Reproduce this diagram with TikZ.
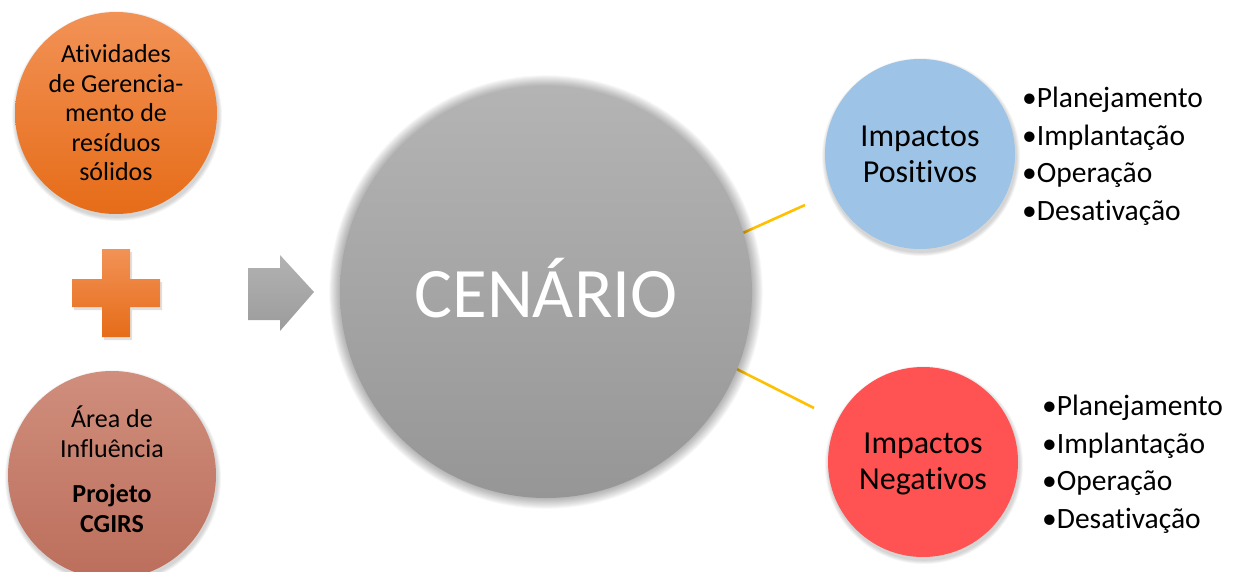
\documentclass[tikz,border=0pt]{standalone}
\usepackage{fontspec}
\setmainfont[Ligatures=NoCommon]{Carlito}
\usetikzlibrary{calc}
\definecolor{orgTop}{RGB}{242,146,86}
\definecolor{orgBot}{RGB}{230,108,24}
\definecolor{brnTop}{RGB}{208,142,124}
\definecolor{brnBot}{RGB}{188,110,92}
\definecolor{gryTop}{RGB}{180,180,180}
\definecolor{gryBot}{RGB}{150,150,150}
\definecolor{arrTop}{RGB}{178,178,178}
\definecolor{arrBot}{RGB}{156,156,156}
\definecolor{posBlue}{RGB}{157,195,230}
\definecolor{negRed}{RGB}{255,82,82}
\definecolor{linkYel}{RGB}{255,192,0}
\tikzset{
  disc/.style={circle, inner sep=0pt, align=center, text=black},
  listtext/.style={align=left, anchor=west, font=\fontsize{29.5}{37.5}\selectfont, inner sep=0pt},
  link/.style={draw=linkYel, line width=2.6pt},
}
\begin{document}
\begin{tikzpicture}[x=1pt,y=-1pt]
\useasboundingbox (0,0) rectangle (1238,572);

% soft drop shadows under the side discs
\foreach \cx/\cy/\r in {116/113/101, 112/475/104, 920/154/95, 923/462/95}{
  \foreach \i in {1,...,5}{
    \fill[black, opacity=0.035] (\cx+1,\cy+3) circle ({\r+\i*0.8});
  }
}

% left column: two inputs joined by a plus
\node[disc, minimum size=202pt, top color=orgTop, bottom color=orgBot,
      font=\fontsize{26}{29.5}\selectfont] (act) at (116,113)
  {Atividades\\de Gerencia-\\mento de\\resíduos\\sólidos};
\node[disc, minimum size=208pt, top color=brnTop, bottom color=brnBot] (area) at (112,475) {};
\node[align=center, inner sep=0pt, font=\fontsize{26}{30}\selectfont] (areaText) at (112,469)
  {Área de\\Influência\\[15pt]\textbf{Projeto}\\\textbf{CGIRS}};

% plus sign
\fill[black, opacity=0.12] (104,252) -- (132,252) -- (132,282) -- (162,282) -- (162,310)
  -- (132,310) -- (132,340) -- (104,340) -- (104,310) -- (74,310) -- (74,282) -- (104,282) -- cycle;
\shade[top color=orgTop, bottom color=orgBot]
  (102,249) -- (130,249) -- (130,279) -- (160,279) -- (160,307)
  -- (130,307) -- (130,337) -- (102,337) -- (102,307) -- (72,307) -- (72,279) -- (102,279) -- cycle;

% block arrow towards the centre
\shade[top color=arrTop, bottom color=arrBot]
  (248,268) -- (280,268) -- (280,255) -- (314,292) -- (280,331) -- (280,320) -- (248,320) -- cycle;

% connector lines from the centre to the two outcome discs
\coordinate (cen) at (546,292);
\coordinate (posEnd) at (805,205);
\coordinate (negEnd) at (814,408);
\path (cen) ++(-16.7:206) coordinate (posStart);
\path (cen) ++(22:206) coordinate (negStart);
\draw[link] (posStart) -- (posEnd);
\draw[link] (negStart) -- (negEnd);

% glow round the central disc
\foreach \i in {1,...,12}{
  \fill[black, opacity=0.028] (cen) circle ({206+\i*0.9});
}
\node[disc, minimum size=412pt, top color=gryTop, bottom color=gryBot] (scen) at (cen) {};
\node[text=white, inner sep=0pt, font=\fontsize{71}{80}\selectfont] (scenText) at (546,288) {CENÁRIO};

% outcome discs
\node[disc, minimum size=190pt, fill=posBlue, font=\fontsize{32}{36}\selectfont]
  (pos) at (920,154) {Impactos\\Positivos};
\node[disc, minimum size=190pt, fill=negRed] (neg) at (923,462) {};
\node[align=center, inner sep=0pt, font=\fontsize{32}{36}\selectfont] (negText) at (923,464)
  {Impactos\\Negativos};

% phase lists
\node[listtext] (posList) at (1022,156)
  {•Planejamento\\•Implantação\\•Operação\\•Desativação};
\node[listtext] (negList) at (1042,464)
  {•Planejamento\\•Implantação\\•Operação\\•Desativação};
\end{tikzpicture}
\end{document}
